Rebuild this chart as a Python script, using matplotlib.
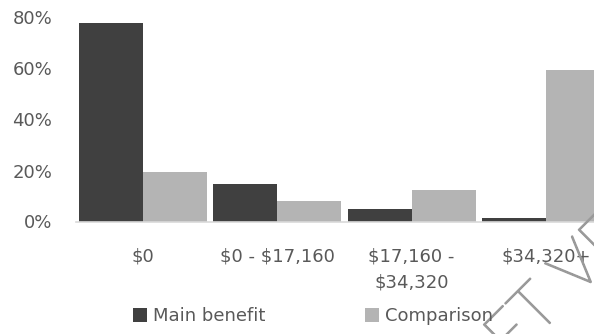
import numpy as np
import matplotlib.pyplot as plt
from matplotlib import patheffects

plt.rcParams['font.family'] = ['DejaVu Sans']
plt.rcParams['text.parse_math'] = False

# data
categories = ["$0", "$0 - $17,160", "$17,160 -\n$34,320", "$34,320+"]
main_benefit = [78.0, 14.7, 5.0, 1.4]
comparison = [19.3, 7.9, 12.2, 59.4]
series_names = ["Main benefit", "Comparison"]
yticks = [0, 20, 40, 60, 80]
ytick_labels = ["0%", "20%", "40%", "60%", "80%"]

W, H = 594, 334
text_color = '#595959'
dark = '#404040'
light = '#b4b4b4'

fig = plt.figure(figsize=(W / 100, H / 100), dpi=100)
# the chart runs past the right edge of the picture, as in the reference
ax = fig.add_axes([76 / W, (H - 221.5) / H, 537 / W, 204 / H])

x = np.arange(len(categories))
bw = 0.476
ax.bar(x - bw / 2, main_benefit, bw, color=dark, label=series_names[0])
ax.bar(x + bw / 2, comparison, bw, color=light, label=series_names[1])

ax.set_xlim(-0.5, len(categories) - 0.5)
ax.set_ylim(0, 80)
ax.set_xticks(x)
ax.set_xticklabels(categories, linespacing=1.55)
ax.set_yticks(yticks)
ax.set_yticklabels(ytick_labels)
ax.tick_params(axis='y', length=0, pad=17, labelsize=13, labelcolor=text_color)
ax.tick_params(axis='x', length=0, pad=19, labelsize=13, labelcolor=text_color)

for side in ['top', 'right', 'left']:
    ax.spines[side].set_visible(False)
ax.spines['bottom'].set_color('#d9d9d9')
ax.spines['bottom'].set_linewidth(1.2)

handles, labels = ax.get_legend_handles_labels()
fig.legend(handles, labels, ncol=2, loc='center left',
           bbox_to_anchor=(133 / W, (H - 316) / H), frameon=False,
           fontsize=13, labelcolor=text_color, borderpad=0, borderaxespad=0,
           handlelength=0.78, handleheight=0.78, handletextpad=0.35,
           columnspacing=5.5)

# faint watermark crossing the lower right corner
wm_color = '#9a9a9a'
fig.text(419 / W, (H - 454) / H, "DRAFT VERSION", rotation=45,
         rotation_mode='anchor', ha='left', va='baseline', fontsize=47,
         family=['Lato', 'DejaVu Sans'], weight='light', color=wm_color,
         path_effects=[patheffects.withStroke(linewidth=1.3, foreground=wm_color)])

fig.savefig("out.png", dpi=100)
